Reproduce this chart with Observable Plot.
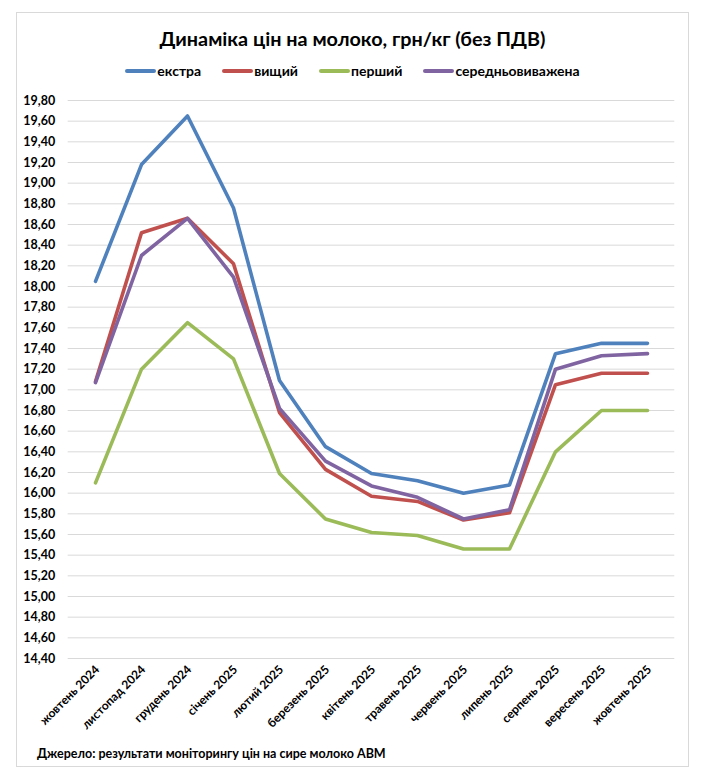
<!DOCTYPE html>
<html>
<head>
<meta charset="utf-8">
<script src="https://cdn.jsdelivr.net/npm/d3@7"></script>
<script src="https://cdn.jsdelivr.net/npm/@observablehq/plot@0.6"></script>
<style>
  html, body { margin: 0; padding: 0; background: #fff; }
  body { width: 705px; height: 775px; position: relative; font-family: Lato, "Open Sans", sans-serif; }
  #frame { position: absolute; left: 16px; top: 12px; width: 673px; height: 755px; box-sizing: border-box; border: 1px solid #d9d9d9; }
  #title { height: 50px; line-height: 50px; text-align: center; font-weight: 700; font-size: 19.8px; color: #000; }
  #legend { height: 16px; line-height: 16px; text-align: center; font-weight: 700; font-size: 14px; color: #000; white-space: nowrap; }
  .item { display: inline-block; margin: 0 10.5px; }
  .sw { display: inline-block; width: 31px; height: 4px; border-radius: 2px; vertical-align: middle; margin-right: 1px; position: relative; top: -1px; }
  #chart svg { display: block; }
  #footer { height: 20px; line-height: 20px; padding-left: 20px; font-weight: 700; font-size: 12.5px; color: #000; }
</style>
</head>
<body>
<div id="frame">
  <div id="title">Динаміка цін на молоко, грн/кг (без ПДВ)</div>
  <div id="legend"></div>
  <div id="chart"></div>
  <div id="footer">Джерело: результати моніторингу цін на сире молоко АВМ</div>
</div>
<script>
const months = ["жовтень 2024", "листопад 2024", "грудень 2024", "січень 2025", "лютий 2025", "березень 2025", "квітень 2025", "травень 2025", "червень 2025", "липень 2025", "серпень 2025", "вересень 2025", "жовтень 2025"];
const seriesNames = ["екстра", "вищий", "перший", "середньовиважена"];
const seriesColors = ["#4F81BD", "#C0504D", "#9BBB59", "#8064A2"];
const ekstra   = [18.05, 19.18, 19.65, 18.76, 17.09, 16.45, 16.19, 16.12, 16.00, 16.08, 17.35, 17.45, 17.45];
const vyshchyi = [17.08, 18.52, 18.66, 18.22, 16.78, 16.23, 15.97, 15.92, 15.74, 15.81, 17.05, 17.16, 17.16];
const pershyi  = [16.10, 17.20, 17.65, 17.30, 16.19, 15.75, 15.62, 15.59, 15.46, 15.46, 16.40, 16.80, 16.80];
const serednio = [17.07, 18.30, 18.66, 18.09, 16.82, 16.31, 16.07, 15.96, 15.75, 15.84, 17.20, 17.33, 17.35];
const yTicks = d3.range(0, 28).map(i => +(14.4 + i * 0.2).toFixed(2));

const seriesValues = [ekstra, vyshchyi, pershyi, serednio];
const data = seriesValues.flatMap((vals, s) => vals.map((v, i) => ({series: seriesNames[s], month: months[i], value: v})));

// legend
const legend = document.getElementById("legend");
seriesNames.forEach((n, i) => {
  const it = document.createElement("span");
  it.className = "item";
  it.innerHTML = `<span class="sw" style="background:${seriesColors[i]}"></span>${n}`;
  legend.appendChild(it);
});

const fmt = d => d.toFixed(2).replace(".", ",");

const chart = Plot.plot({
  width: 671,
  height: 665,
  marginLeft: 50.7,
  marginRight: 13.7,
  marginTop: 21,
  marginBottom: 86,
  style: {fontFamily: "Lato, 'Open Sans', sans-serif", fontWeight: 700, color: "#000", background: "#fff"},
  x: {type: "point", domain: months, padding: 0.5, label: null},
  y: {domain: [14.4, 19.8], label: null},
  color: {domain: seriesNames, range: seriesColors},
  marks: [
    Plot.gridY(yTicks, {stroke: "#d9d9d9", strokeOpacity: 1, strokeWidth: 1}),
    Plot.axisY(yTicks, {tickSize: 0, tickPadding: 13, tickFormat: fmt, fontSize: 12.5, fontWeight: 700, label: null}),
    Plot.axisX({tickSize: 0, tickRotate: -45, tickPadding: 9, fontSize: 12, fontWeight: 700, label: null, dx: 2}),
    Plot.line(data, {x: "month", y: "value", z: "series", stroke: "series", strokeWidth: 3.6, strokeLinecap: "round", strokeLinejoin: "round",
      style: {filter: "drop-shadow(0.8px 1.6px 1.2px rgba(0,0,0,0.3))"}})
  ]
});
document.getElementById("chart").appendChild(chart);
</script>
</body>
</html>
